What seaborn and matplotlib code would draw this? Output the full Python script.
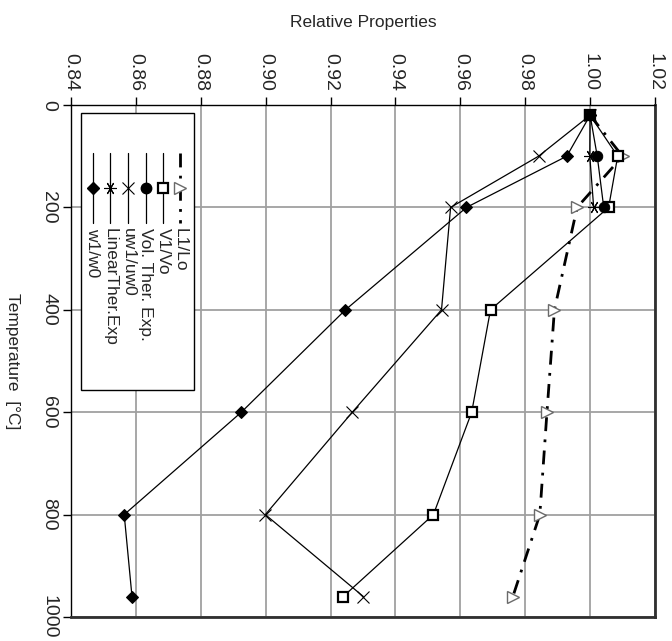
import matplotlib
matplotlib.use("Agg")
import matplotlib.pyplot as plt
from matplotlib.lines import Line2D
from matplotlib.patches import Rectangle
import seaborn as sns
import numpy as np

# ---------------- data ----------------
temps = [20, 100, 200, 400, 600, 800, 960]
l1_lo = [1.000, 1.0100, 0.9960, 0.9890, 0.9867, 0.9845, 0.9762]
v1_vo = [1.000, 1.0085, 1.0057, 0.9693, 0.9635, 0.9517, 0.9239]
vol_ther = [1.000, 1.0022, 1.0042]
uw1_uw0 = [1.000, 0.9841, 0.9570, 0.9542, 0.9267, 0.8999, 0.9301]
lin_ther = [1.000, 0.9999, 1.0011]
w1_w0 = [1.000, 0.9928, 0.9619, 0.9246, 0.8925, 0.8564, 0.8588]

series_labels = ["L1/Lo", "V1/Vo", "Vol. Ther. Exp.", "uw1/uw0", "LinearTher.Exp", "w1/w0"]
x_ticks = [0.84, 0.86, 0.88, 0.90, 0.92, 0.94, 0.96, 0.98, 1.00, 1.02]
y_ticks = [0, 200, 400, 600, 800, 1000]

# ---------------- style ----------------
sns.set_theme(style="white")
plt.rcParams["font.family"] = ["Liberation Sans", "DejaVu Sans"]

W, H = 672, 641
fig = plt.figure(figsize=(W / 100, H / 100), dpi=100)
ax = fig.add_axes([71 / W, 1 - 617 / H, (655 - 71) / W, (617 - 105) / H])

grey_tri = "#6a6a6a"
styles = [
    dict(marker=">", markersize=8, markerfacecolor="white", markeredgecolor=grey_tri,
         markeredgewidth=1.0, linestyle=(0, (5, 3, 1, 3)), lw=2.0),
    dict(marker="s", markersize=7, markerfacecolor="white", markeredgecolor="black",
         markeredgewidth=1.6, linestyle="-", lw=0.9),
    dict(marker="o", markersize=7.5, markerfacecolor="black", markeredgecolor="black",
         linestyle="-", lw=0.9),
    dict(marker="x", markersize=9, markeredgecolor="black", markeredgewidth=0.8,
         linestyle="-", lw=0.9),
    dict(marker=(6, 2, 90), markersize=9, markeredgecolor="black", markeredgewidth=0.8,
         linestyle="-", lw=0.9),
    dict(marker="D", markersize=6.5, markerfacecolor="black", markeredgecolor="black",
         linestyle="-", lw=0.9),
]
data = [l1_lo, v1_vo, vol_ther, uw1_uw0, lin_ther, w1_w0]

for vals, st in zip(data, styles):
    sns.lineplot(x=vals, y=temps[:len(vals)], sort=False, estimator=None,
                 orient="y", color="black", legend=False, ax=ax, **st)

# ---------------- axes ----------------
ax.set_xlim(0.84, 1.02)
ax.set_ylim(1000, 0)
ax.set_xticks(x_ticks)
ax.set_xticklabels([f"{v:.2f}" for v in x_ticks], rotation=-90)
ax.set_yticks(y_ticks)
ax.set_yticklabels([str(v) for v in y_ticks], rotation=-90, va="center")
ax.xaxis.tick_top()
ax.xaxis.set_label_position("top")
ax.tick_params(axis="both", which="major", direction="out", length=6, width=1,
               color="black", labelsize=14, pad=4)
ax.tick_params(axis="x", bottom=False, top=True)
ax.tick_params(axis="y", left=True, right=False)
ax.grid(True, color="#a0a0a0", lw=1.3)
ax.set_axisbelow(True)

for side in ["left", "top"]:
    ax.spines[side].set_color("black")
    ax.spines[side].set_linewidth(1.0)
for side in ["right", "bottom"]:
    ax.spines[side].set_color("#303030")
    ax.spines[side].set_linewidth(2.0)

ax.set_xlabel("Relative Properties", fontsize=12.5)
ax.xaxis.set_label_coords(0.5, 1 + (105 - 22) / 512)
ax.xaxis.label.set_va("center")
ax.set_ylabel("Temperature  [°C]", fontsize=12.5, rotation=-90, va="center", ha="center")
ax.yaxis.set_label_coords((12 - 71) / 584, 0.5)

# ---------------- rotated legend ----------------
def fx(x):
    return x / W

def fy(y):
    return 1 - y / H

fig.add_artist(Rectangle((fx(81), fy(390)), fx(194) - fx(81), fy(113) - fy(390),
                         transform=fig.transFigure, facecolor="white",
                         edgecolor="black", lw=1.0, zorder=5))
leg_x = [180, 163, 146, 128, 110, 93]
for xpix, lab, st in zip(leg_x, series_labels, styles):
    ln = Line2D([fx(xpix), fx(xpix)], [fy(153), fy(223)], transform=fig.transFigure,
                color="black", zorder=6, **{k: v for k, v in st.items() if k not in ("marker", "markersize", "markerfacecolor", "markeredgecolor", "markeredgewidth")})
    fig.add_artist(ln)
    mk_kw = {k: v for k, v in st.items() if k in ("marker", "markersize", "markerfacecolor", "markeredgecolor", "markeredgewidth")}
    mk = Line2D([fx(xpix)], [fy(188)], transform=fig.transFigure, linestyle="none",
                color="black", zorder=7, **mk_kw)
    fig.add_artist(mk)
    fig.text(fx(xpix), fy(228), lab, rotation=-90, ha="center", va="top",
             fontsize=12.5, zorder=7)

fig.savefig("out.png", dpi=100)
